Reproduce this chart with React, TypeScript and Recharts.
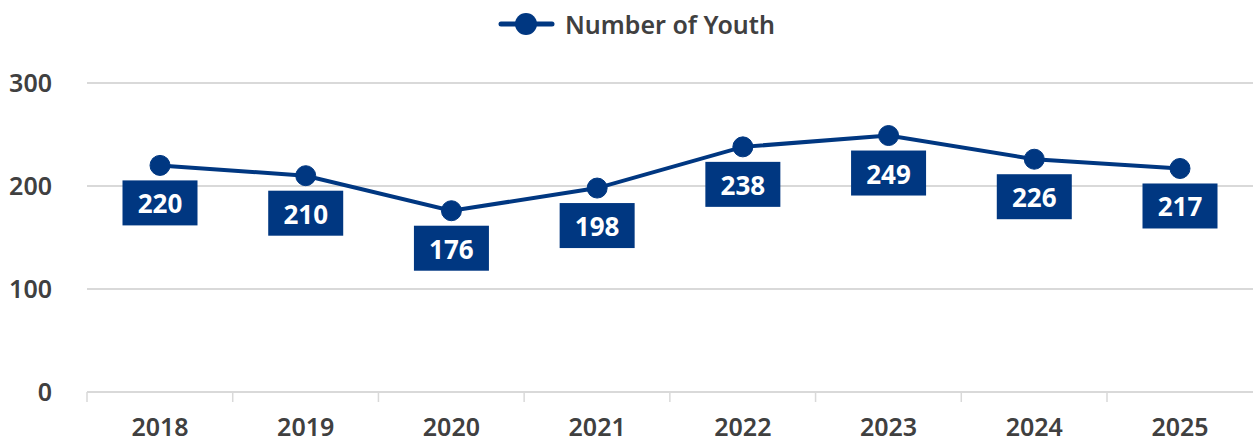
import { CartesianGrid, LabelList, Legend, Line, LineChart, XAxis, YAxis } from "recharts";

const years = ["2018", "2019", "2020", "2021", "2022", "2023", "2024", "2025"];
const youth = [220, 210, 176, 198, 238, 249, 226, 217];
const yTicks = [0, 100, 200, 300];

const data = years.map((year, i) => ({ year, youth: youth[i] }));

const NAVY = "#003781";
const TEXT = "#404040";
const GRID = "#d9d9d9";
const FONT = "'Noto Sans', sans-serif";
const HALF_BAND = 73;

function YearTick(props: any) {
  const { x, y, payload } = props;
  return (
    <g>
      <line x1={x - HALF_BAND} x2={x - HALF_BAND} y1={y} y2={y + 10} stroke={GRID} strokeWidth={1.5} />
      <text x={x} y={y + 44} textAnchor="middle" fill={TEXT} fontSize={25} fontWeight={600} fontFamily={FONT}>
        {payload.value}
      </text>
    </g>
  );
}

function ValueBox(props: any) {
  const { x, y, value } = props;
  return (
    <g>
      <rect x={x - 37.5} y={y + 15} width={75} height={45} fill={NAVY} />
      <text
        x={x}
        y={y + 38}
        textAnchor="middle"
        dominantBaseline="central"
        fill="#fff"
        fontSize={26}
        fontWeight={700}
        fontFamily={FONT}
      >
        {value}
      </text>
    </g>
  );
}

function LegendBox() {
  return (
    <div style={{ position: "relative", height: 83 }}>
      <div style={{ position: "absolute", left: 498, top: 7, display: "flex", alignItems: "center" }}>
        <svg width={57} height={34}>
          <line x1={3} x2={54} y1={17} y2={17} stroke={NAVY} strokeWidth={5} strokeLinecap="round" />
          <circle cx={28} cy={17} r={11} fill={NAVY} />
        </svg>
        <span style={{ marginLeft: 10, fontFamily: FONT, fontSize: 25, fontWeight: 600, color: TEXT }}>
          Number of Youth
        </span>
      </div>
    </div>
  );
}

export default function App() {
  return (
    <div style={{ position: "absolute", left: 0, top: 0, background: "#fff" }}>
      <LineChart width={1253} height={445} data={data} margin={{ top: 0, right: 0, bottom: 0, left: 0 }}>
        <Legend verticalAlign="top" content={<LegendBox />} />
        <CartesianGrid vertical={false} stroke={GRID} strokeWidth={2} />
        <XAxis
          dataKey="year"
          height={53}
          padding={{ left: 73, right: 73 }}
          tickLine={false}
          tickSize={0}
          tickMargin={0}
          axisLine={{ stroke: GRID, strokeWidth: 2 }}
          tick={<YearTick />}
          interval={0}
        />
        <YAxis
          width={87}
          domain={[0, 300]}
          ticks={yTicks}
          axisLine={false}
          tickLine={false}
          tickSize={0}
          tickMargin={35}
          tick={{ fill: TEXT, fontSize: 25, fontWeight: 600, fontFamily: FONT }}
        />
        <Line
          dataKey="youth"
          name="Number of Youth"
          stroke={NAVY}
          strokeWidth={4}
          dot={{ r: 10, fill: NAVY, stroke: NAVY, strokeWidth: 1 }}
          activeDot={false}
          isAnimationActive={false}
        >
          <LabelList dataKey="youth" content={<ValueBox />} />
        </Line>
      </LineChart>
    </div>
  );
}
